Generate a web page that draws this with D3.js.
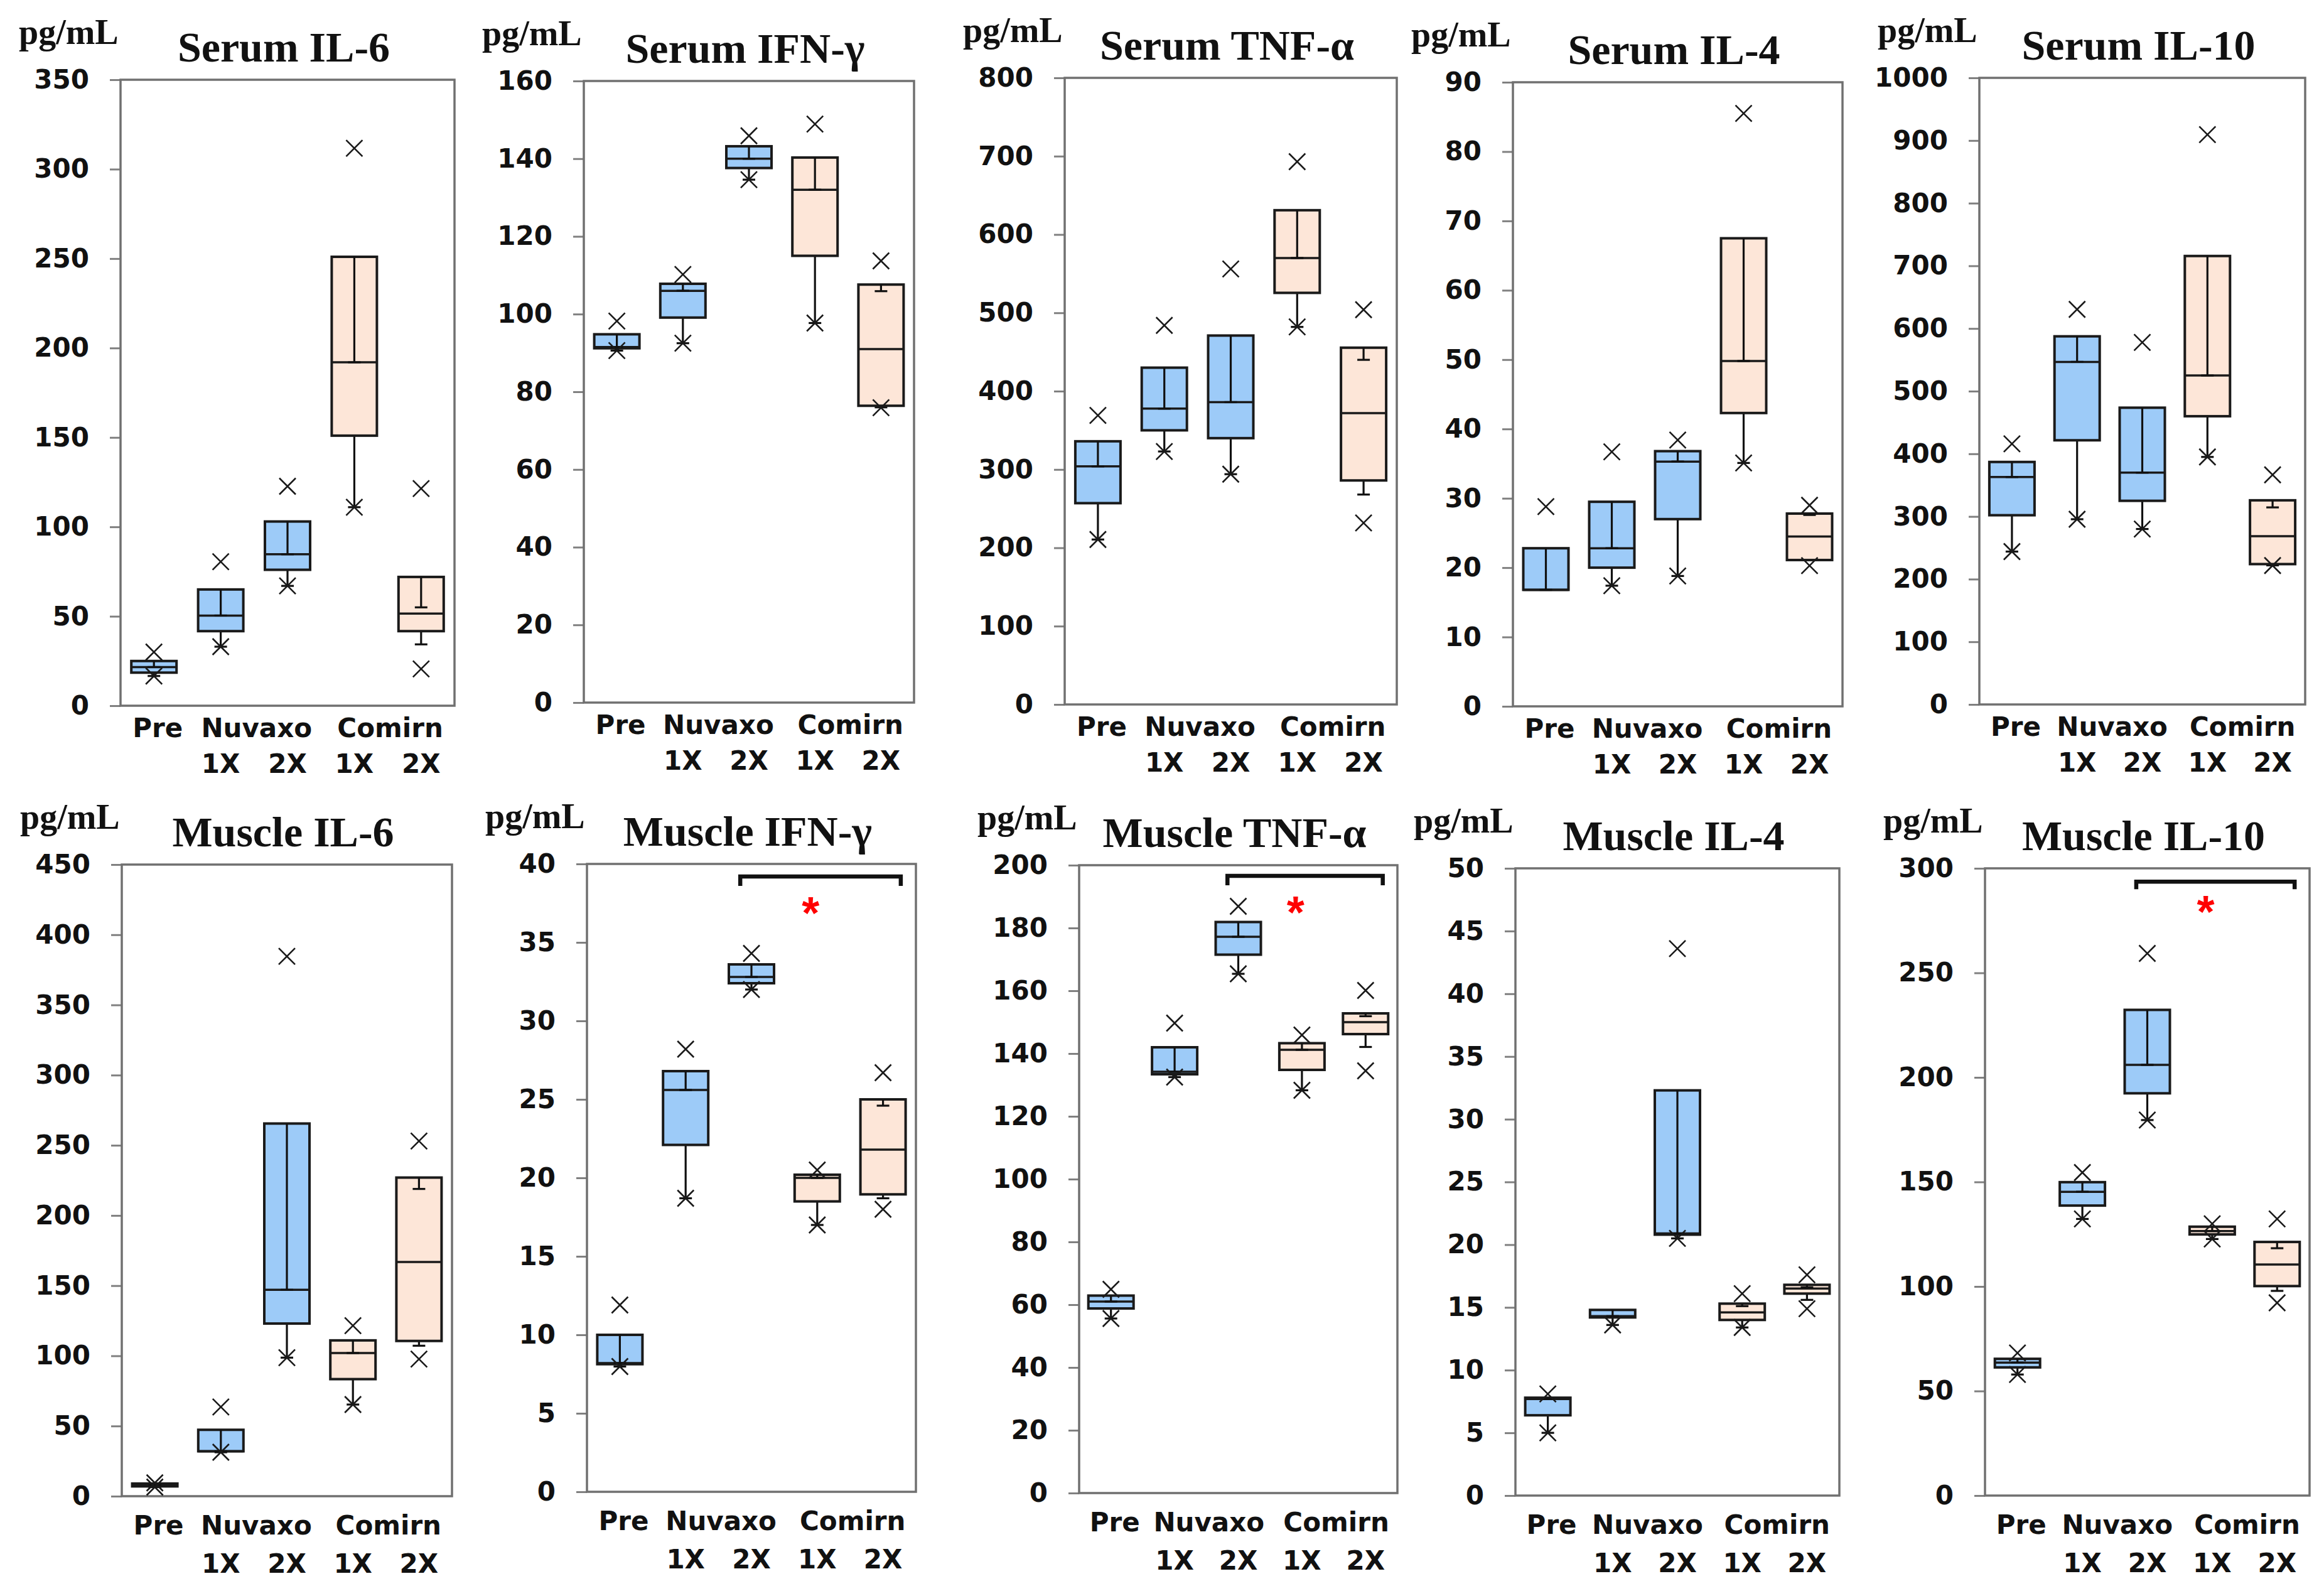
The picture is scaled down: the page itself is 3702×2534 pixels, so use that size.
<!DOCTYPE html>
<html>
<head>
<meta charset="utf-8">
<script src="https://cdn.jsdelivr.net/npm/d3@7"></script>
<style>
  body { margin: 0; background: #fff; }
</style>
</head>
<body>
<div id="chart"></div>
<script>
// box plots of cytokine levels, serum (top row) and muscle (bottom row)

var categories = ["Pre", "Nuvaxo 1X", "Nuvaxo 2X", "Comirn 1X", "Comirn 2X"]
var groupLine1 = [["Pre", 0, 0], ["Nuvaxo", 1, 2], ["Comirn", 3, 4]]
var groupLine2 = [["1X", 1], ["2X", 2], ["1X", 3], ["2X", 4]]

var titles = ["Serum IL-6", "Serum IFN-\u03b3", "Serum TNF-\u03b1", "Serum IL-4", "Serum IL-10",
              "Muscle IL-6", "Muscle IFN-\u03b3", "Muscle TNF-\u03b1", "Muscle IL-4", "Muscle IL-10"]
var yMax  = [350, 160, 800, 90, 1000, 450, 40, 200, 50, 300]
var yStep = [50, 20, 100, 10, 100, 50, 5, 20, 5, 50]

// per panel, one value per category
var q1 = [
  [18.5, 41.7, 76, 151, 41.7],
  [91.2, 99.1, 137.6, 115, 76.4],
  [257, 350, 340, 525.5, 286],
  [16.8, 20, 27, 42.3, 21.1],
  [302, 421.6, 325, 460, 224],
  [7, 32, 123, 83.4, 110.6],
  [8.13, 22.1, 32.4, 18.5, 18.95],
  [58.8, 133.4, 171.5, 134.8, 146.2],
  [6.4, 14.2, 20.8, 14.0, 16.1],
  [61.3, 138.7, 192.4, 124.9, 100.2]
]
var median = [
  [21.6, 50.4, 84.7, 192, 51.5],
  [91.5, 106, 140, 132, 91],
  [304, 377.7, 386, 570, 372],
  [16.8, 22.8, 35.3, 49.8, 24.5],
  [363, 546.7, 370, 525, 268.5],
  [8, 32, 147, 102, 166.8],
  [8.2, 25.6, 32.8, 20.0, 21.8],
  [61, 134.2, 177.2, 141.2, 150],
  [7.7, 14.3, 20.9, 14.6, 16.5],
  [63.6, 145.3, 206, 126.5, 110.5]
]
var q3 = [
  [25, 65, 103, 251, 72],
  [94.8, 107.8, 143.2, 140.3, 107.6],
  [336, 430, 471, 631, 455.5],
  [22.8, 29.5, 36.8, 67.5, 27.8],
  [387, 587.5, 473.6, 715.7, 325.8],
  [9, 47.3, 265.5, 111, 227],
  [10.0, 26.8, 33.6, 20.2, 25.0],
  [62.9, 142, 181.9, 143.3, 152.8],
  [7.8, 14.8, 32.3, 15.3, 16.8],
  [65.4, 149.9, 232.3, 128.6, 121.3]
]
// end of the bar hanging down from the box top
var upperCap = [
  [21.6, 50.4, 84.7, 192, 55],
  [91.5, 106, 140, 132, 105.9],
  [304, 377.7, 386, 570, 440],
  [16.8, 22.8, 35.3, 49.8, 27.6],
  [363, 546.7, 370, 525, 314.5],
  [8, 32, 147, 102, 218.9],
  [8.2, 25.6, 32.8, 20.0, 24.6],
  [61, 134.2, 177.2, 141.2, 151.9],
  [7.7, 14.3, 20.9, 15.1, 16.6],
  [63.6, 145.3, 206, 126.5, 118.3]
]
var lowerCap = [
  [16.6, 33, 67, 111, 34.3],
  [90.6, 92.5, 134.6, 97.7, 76],
  [210.6, 323, 294, 482, 268],
  [16.8, 17.4, 18.8, 35.1, 21.1],
  [244, 295.6, 280, 395, 222],
  [6.5, 31.3, 98.7, 65.3, 107.2],
  [7.98, 18.7, 32.0, 17.0, 18.7],
  [55.6, 132.5, 165.4, 128.3, 142.1],
  [5.0, 13.6, 20.5, 13.4, 15.6],
  [57.9, 132.3, 179.6, 122.7, 97.9]
]
// x markers (max / min)
var markers = [
  [[30, 16.6], [80.5, 33], [122.7, 67], [311.7, 111], [121.4, 20.6]],
  [[98.2, 90.6], [110.2, 92.5], [145.9, 134.6], [148.9, 97.7], [113.7, 75.9]],
  [[369, 210.6], [484, 323], [556, 294], [693, 482], [504, 231.7]],
  [[28.8], [36.7, 17.4], [38.4, 18.8], [85.5, 35.1], [29, 20.3]],
  [[416, 244], [630.5, 295.6], [577.7, 280], [909.5, 395], [366.5, 221.7]],
  [[9.5, 6.5], [63.6, 31.3], [384.6, 98.7], [121.5, 65.3], [253, 97.7]],
  [[11.9, 7.98], [28.2, 18.7], [34.3, 32.0], [20.5, 17.0], [26.7, 18.0]],
  [[64.9, 55.6], [149.7, 132.5], [186.9, 165.4], [145.9, 128.3], [160.1, 134.5]],
  [[8.1, 5.0], [13.6], [43.6, 20.5], [16.1, 13.4], [17.6, 14.9]],
  [[68.2, 57.9], [154.5, 132.3], [259.3, 179.6], [130, 122.7], [132.3, 92.2]]
]

// significance brackets (Nuvaxo 2X vs Comirn 2X)
var sigPanels = [6, 7, 9]
var sigTop  = [39.2, 196.6, 293.6]
var sigLeg  = [38.6, 193.6, 290]
var sigStar = [37.5, 188, 283.8]

// frame boxes of each panel [left, right, top, bottom]
var frames = [
  [192, 724, 127, 1124], [930, 1456, 129, 1119], [1696, 2225, 124, 1122],
  [2410, 2935, 131, 1125], [3153, 3672, 124, 1122],
  [194, 720, 1377, 2383], [935, 1459, 1376, 2376], [1719, 2226, 1378, 2378],
  [2414, 2930, 1383, 2382], [3162, 3679, 1383, 2382]
]

var W = 3702, H = 2534
var blue = "#9dcbf8", peach = "#fde6d8"
var tickFont = "'DejaVu Sans', sans-serif"
var titleFont = "'Liberation Serif', 'Times New Roman', serif"

var svg = d3.select("#chart").append("svg")
            .attr("width", W)
            .attr("height", H)

svg.append("rect").attr("width", W).attr("height", H).attr("fill", "#fff")

frames.forEach(function(f, p) {
  var left = f[0], right = f[1], top = f[2], bottom = f[3]
  var row2 = p >= 5

  var x = d3.scaleBand()
            .domain(categories)
            .range([left, right])
            .padding(0)
  var y = d3.scaleLinear()
            .domain([0, yMax[p]])
            .range([bottom, top])

  var g = svg.append("g")

  // y axis
  var axis = d3.axisLeft(y)
               .tickValues(d3.range(0, yMax[p] + yStep[p] / 2, yStep[p]))
               .tickSize(17)
               .tickPadding(33)
               .tickFormat(d3.format("d"))
  var ax = g.append("g")
            .attr("transform", "translate(" + left + ",0)")
            .call(axis)
  ax.select(".domain").remove()
  ax.selectAll(".tick line").attr("stroke", "#808080").attr("stroke-width", 3)
  ax.selectAll(".tick text")
    .attr("fill", "#111")
    .style("font-family", tickFont)
    .style("font-weight", "bold")
    .style("font-size", "42px")

  // plot frame
  g.append("rect")
   .attr("x", left).attr("y", top)
   .attr("width", right - left).attr("height", bottom - top)
   .attr("fill", "none")
   .attr("stroke", "#707070")
   .attr("stroke-width", 3.5)

  // unit and title
  g.append("text")
   .attr("x", left - 162).attr("y", top - 57)
   .style("font-family", titleFont).style("font-weight", "bold")
   .style("font-size", "56px")
   .attr("fill", "#111")
   .text("pg/mL")
  g.append("text")
   .attr("x", (left + right) / 2 - 6).attr("y", top - 29)
   .attr("text-anchor", "middle")
   .style("font-family", titleFont).style("font-weight", "bold")
   .style("font-size", "68px")
   .attr("fill", "#111")
   .text(titles[p])

  // x labels in two lines
  var cx = function(i) { return x(categories[i]) + x.bandwidth() / 2 }
  var l1 = bottom + (row2 ? 61 : 50), l2 = bottom + (row2 ? 122 : 107)
  groupLine1.forEach(function(d) {
    g.append("text")
     .attr("x", (cx(d[1]) + cx(d[2])) / 2 + (d[1] == 0 ? 6 : 4))
     .attr("y", l1)
     .attr("text-anchor", "middle")
     .style("font-family", tickFont).style("font-weight", "bold")
     .style("font-size", "42px").attr("fill", "#111")
     .text(d[0])
  })
  groupLine2.forEach(function(d) {
    g.append("text")
     .attr("x", cx(d[1]))
     .attr("y", l2)
     .attr("text-anchor", "middle")
     .style("font-family", tickFont).style("font-weight", "bold")
     .style("font-size", "42px").attr("fill", "#111")
     .text(d[0])
  })

  // boxes
  var bw = 72, capW = 20, mk = 13
  categories.forEach(function(c, i) {
    var xc = cx(i)
    var fill = i < 3 ? blue : peach
    var b = g.append("g")

    b.append("line")
     .attr("x1", xc).attr("x2", xc)
     .attr("y1", y(q1[p][i])).attr("y2", y(lowerCap[p][i]))
     .attr("stroke", "#111").attr("stroke-width", 3.2)
    b.append("line")
     .attr("x1", xc - capW / 2).attr("x2", xc + capW / 2)
     .attr("y1", y(lowerCap[p][i])).attr("y2", y(lowerCap[p][i]))
     .attr("stroke", "#111").attr("stroke-width", 3.2)

    b.append("rect")
     .attr("x", xc - bw / 2)
     .attr("y", y(q3[p][i]))
     .attr("width", bw)
     .attr("height", Math.max(1, y(q1[p][i]) - y(q3[p][i])))
     .attr("fill", fill)
     .attr("stroke", "#1a1a1a")
     .attr("stroke-width", 4)

    b.append("line")
     .attr("x1", xc - bw / 2).attr("x2", xc + bw / 2)
     .attr("y1", y(median[p][i])).attr("y2", y(median[p][i]))
     .attr("stroke", "#1a1a1a").attr("stroke-width", 3.5)

    b.append("line")
     .attr("x1", xc).attr("x2", xc)
     .attr("y1", y(q3[p][i])).attr("y2", y(upperCap[p][i]))
     .attr("stroke", "#111").attr("stroke-width", 3.2)
    b.append("line")
     .attr("x1", xc - capW / 2).attr("x2", xc + capW / 2)
     .attr("y1", y(upperCap[p][i])).attr("y2", y(upperCap[p][i]))
     .attr("stroke", "#111").attr("stroke-width", 3.2)

    b.selectAll(".mark")
     .data(markers[p][i])
     .enter().append("path")
     .attr("class", "mark")
     .attr("d", function(v) {
       var yy = y(v)
       return "M" + (xc - mk) + "," + (yy - mk) + "L" + (xc + mk) + "," + (yy + mk) +
              "M" + (xc - mk) + "," + (yy + mk) + "L" + (xc + mk) + "," + (yy - mk)
     })
     .attr("stroke", "#1a1a1a")
     .attr("stroke-width", 2.6)
     .attr("fill", "none")
  })

  // significance bracket
  var s = sigPanels.indexOf(p)
  if (s >= 0) {
    var bx1 = cx(2) - 0.17 * x.bandwidth()
    var bx2 = cx(4) + 0.27 * x.bandwidth()
    g.append("path")
     .attr("d", "M" + bx1 + "," + y(sigLeg[s]) + "V" + y(sigTop[s]) +
                "H" + bx2 + "V" + y(sigLeg[s]))
     .attr("fill", "none")
     .attr("stroke", "#111")
     .attr("stroke-width", 6.5)
    g.append("text")
     .attr("x", cx(3) - 0.1 * x.bandwidth())
     .attr("y", y(sigStar[s]) + 40)
     .attr("text-anchor", "middle")
     .style("font-family", "'Liberation Sans', Arial, sans-serif")
     .style("font-weight", "bold")
     .style("font-size", "72px")
     .attr("fill", "#ff0000")
     .text("*")
  }
})
</script>
</body>
</html>
